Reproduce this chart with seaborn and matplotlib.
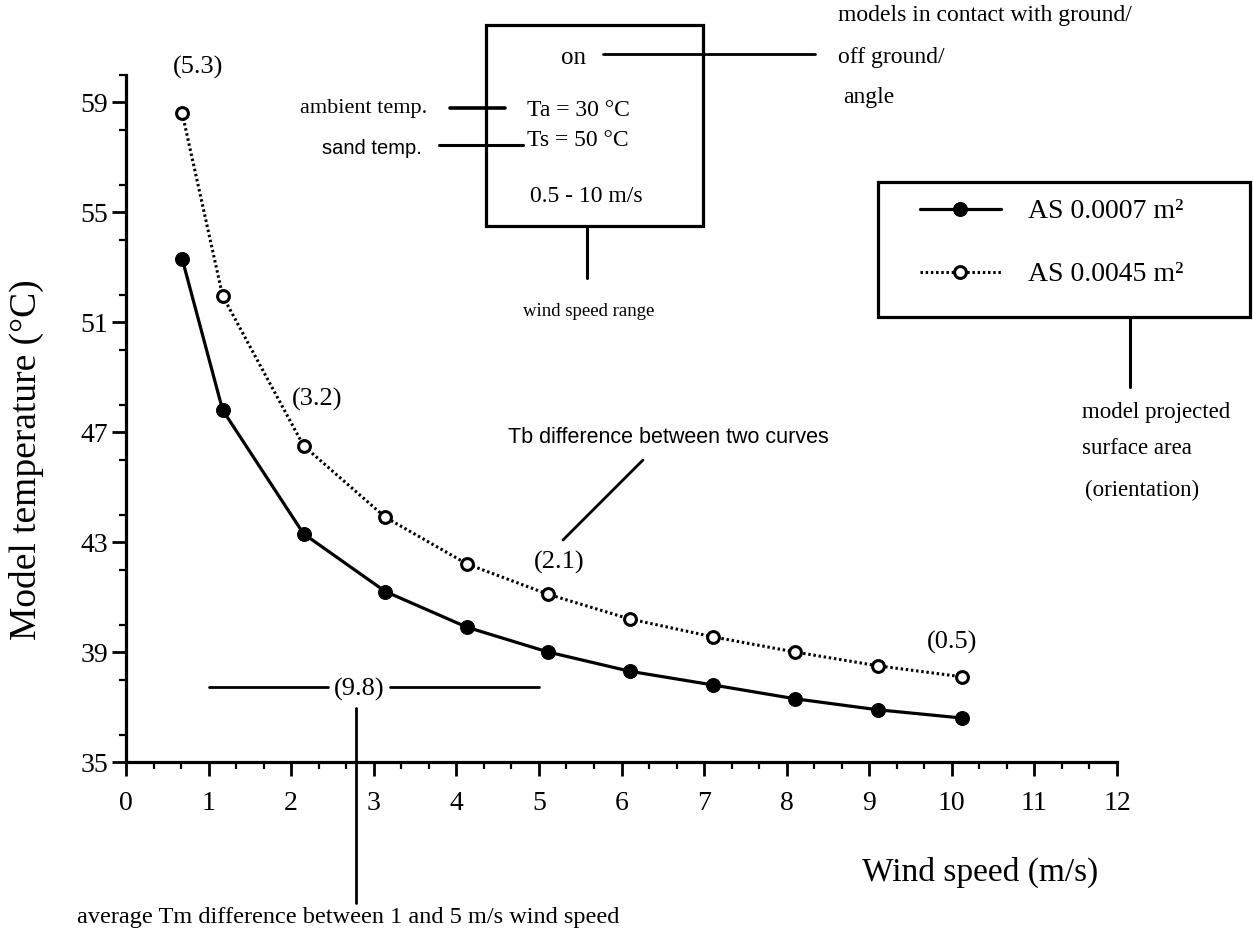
import matplotlib
matplotlib.use("Agg")
import matplotlib.pyplot as plt
from matplotlib.lines import Line2D
from matplotlib.patches import Rectangle
from matplotlib.ticker import MultipleLocator
import pandas as pd
import seaborn as sns

# Wind speed (m/s) and modelled body temperature (deg C) for two projected areas
wind_speed = [0.68, 1.17, 2.15, 3.14, 4.13, 5.11, 6.10, 7.11, 8.10, 9.10, 10.12]
temp_small_area = [53.3, 47.8, 43.3, 41.2, 39.9, 39.0, 38.3, 37.8, 37.3, 36.9, 36.6]
temp_large_area = [58.6, 51.95, 46.5, 43.9, 42.2, 41.1, 40.2, 39.55, 39.0, 38.5, 38.1]
series_labels = ["AS 0.0007 m\u00b2", "AS 0.0045 m\u00b2"]

# Temperature differences between the two curves at selected wind speeds
diff_labels = ["(5.3)", "(3.2)", "(2.1)", "(0.5)"]
diff_label_x = [0.87, 2.32, 5.25, 10.0]
diff_label_y = [60.24, 48.2, 42.24, 39.36]
mean_diff_label = "(9.8)"

x_ticks = list(range(0, 13))
y_ticks = [35, 39, 43, 47, 51, 55, 59]

sns.set_style("ticks")
plt.rcParams["font.family"] = ["Liberation Serif", "DejaVu Serif"]
plt.rcParams["axes.edgecolor"] = "black"
plt.rcParams["axes.labelcolor"] = "black"
plt.rcParams["text.color"] = "black"
plt.rcParams["xtick.color"] = "black"
plt.rcParams["ytick.color"] = "black"

W, H = 1253, 931
fig = plt.figure(figsize=(W / 100, H / 100), dpi=100)
fig.patch.set_facecolor("white")


def fx(px, py):
    """Pixel position on the canvas -> figure fraction."""
    return px / W, 1 - py / H


ax_left, ax_right, ax_bottom, ax_top = 126, 1117, 762, 74.5
ax = fig.add_axes([ax_left / W, 1 - ax_bottom / H,
                   (ax_right - ax_left) / W, (ax_bottom - ax_top) / H])
ax.set_facecolor("white")

df = pd.DataFrame({"wind": wind_speed,
                   "small": temp_small_area,
                   "large": temp_large_area})

sns.lineplot(data=df, x="wind", y="small", ax=ax, color="black", lw=2.3,
             marker="o", markersize=10, markerfacecolor="black",
             markeredgecolor="black", label=series_labels[0], legend=False)
sns.lineplot(data=df, x="wind", y="large", ax=ax, color="black", lw=2.2,
             linestyle=(0, (0.8, 0.9)), marker="o", markersize=8.5,
             markerfacecolor="white", markeredgecolor="black",
             markeredgewidth=2.2, label=series_labels[1], legend=False)

ax.set_xlim(0, 12)
ax.set_ylim(35, 60)
ax.set_xticks(x_ticks)
ax.set_yticks(y_ticks)
ax.xaxis.set_minor_locator(MultipleLocator(1 / 3))
ax.yaxis.set_minor_locator(MultipleLocator(2))
ax.tick_params(which="major", direction="out", length=10, width=2,
               labelsize=20, colors="black")
ax.tick_params(which="minor", direction="out", length=5, width=1.6)
ax.tick_params(axis="x", which="major", pad=11)
ax.tick_params(axis="y", which="major", pad=3)
for side in ("top", "right"):
    ax.spines[side].set_visible(False)
for side in ("left", "bottom"):
    ax.spines[side].set_linewidth(2.3)

ax.set_xlabel("Wind speed (m/s)", fontsize=24, va="center", color="black")
ax.xaxis.set_label_coords(0.862, -0.161)
ax.set_ylabel("Model temperature (\u00b0C)", fontsize=27, va="center",
              color="black")
ax.yaxis.set_label_coords(-0.1, 0.44)

# Differences between the two curves
for lab, lx, ly in zip(diff_labels, diff_label_x, diff_label_y):
    ax.text(lx, ly, lab, fontsize=19, ha="center", va="center", clip_on=False)

# Mean difference between 1 and 5 m/s
ax.plot([1.0, 2.45], [37.73, 37.73], color="black", lw=2, clip_on=False)
ax.plot([3.2, 5.0], [37.73, 37.73], color="black", lw=2, clip_on=False)
ax.text(2.82, 37.62, mean_diff_label, fontsize=19, ha="center", va="center")
ax.plot([2.78, 2.78], [36.96, 29.87], color="black", lw=2, clip_on=False)
fig.text(*fx(348, 918), "average Tm difference between 1 and 5 m/s wind speed",
         fontsize=17.5, ha="center", va="center")

# Curve difference callout
fig.add_artist(Line2D(*zip(fx(643, 460), fx(563, 540)), color="black", lw=2))
fig.text(*fx(508, 438), "Tb difference between two curves",
         fontsize=15.5, family="Liberation Sans", ha="left", va="center")

# Conditions box
bx0, by0, bx1, by1 = 486, 25, 703, 226
fig.add_artist(Rectangle(fx(bx0, by1), (bx1 - bx0) / W, (by1 - by0) / H,
                         transform=fig.transFigure, fill=False,
                         edgecolor="black", lw=2.3))
fig.text(*fx(573, 58), "on", fontsize=18, ha="center", va="center")
fig.add_artist(Line2D(*zip(fx(603, 54), fx(815, 54)), color="black", lw=2))
fig.text(*fx(527, 110), "Ta = 30 \u00b0C", fontsize=17, ha="left", va="center")
fig.text(*fx(527, 140), "Ts = 50 \u00b0C", fontsize=17, ha="left", va="center")
fig.text(*fx(530, 197), "0.5 - 10 m/s", fontsize=17, ha="left", va="center")
fig.text(*fx(427, 108), "ambient temp.", fontsize=16, ha="right", va="center")
fig.add_artist(Line2D(*zip(fx(450, 108), fx(505, 108)), color="black", lw=2.6))
fig.text(*fx(422, 148), "sand temp.", fontsize=14.5, family="Liberation Sans",
         ha="right", va="center")
fig.add_artist(Line2D(*zip(fx(439, 145), fx(523, 145)), color="black", lw=2.2))
fig.add_artist(Line2D(*zip(fx(587, 227), fx(587, 278)), color="black", lw=2.2))
fig.text(*fx(523, 312), "wind speed range", fontsize=13.5, ha="left",
         va="center")

fig.text(*fx(838, 15), "models in contact with ground/", fontsize=17,
         ha="left", va="center")
fig.text(*fx(838, 57), "off ground/", fontsize=17, ha="left", va="center")
fig.text(*fx(843, 97), "angle", fontsize=17, ha="left", va="center")

# Legend
lx0, ly0, lx1, ly1 = 878, 182, 1250, 317
fig.add_artist(Rectangle(fx(lx0, ly1), (lx1 - lx0) / W, (ly1 - ly0) / H,
                         transform=fig.transFigure, fill=False,
                         edgecolor="black", lw=2.3))
handles = ax.get_lines()[:2]
ax.legend(handles, series_labels, loc="upper left",
          bbox_to_anchor=fx(920, 199), bbox_transform=fig.transFigure,
          frameon=False, borderpad=0, borderaxespad=0, handlelength=2.9,
          handletextpad=1.0, labelspacing=1.35, fontsize=20)
fig.add_artist(Line2D(*zip(fx(1130, 317), fx(1130, 387)), color="black", lw=2.2))
fig.text(*fx(1082, 413), "model projected", fontsize=16.5, ha="left", va="center")
fig.text(*fx(1082, 448), "surface area", fontsize=16.5, ha="left", va="center")
fig.text(*fx(1085, 490), "(orientation)", fontsize=16.5, ha="left", va="center")

fig.savefig("out.png", dpi=100, facecolor="white")
